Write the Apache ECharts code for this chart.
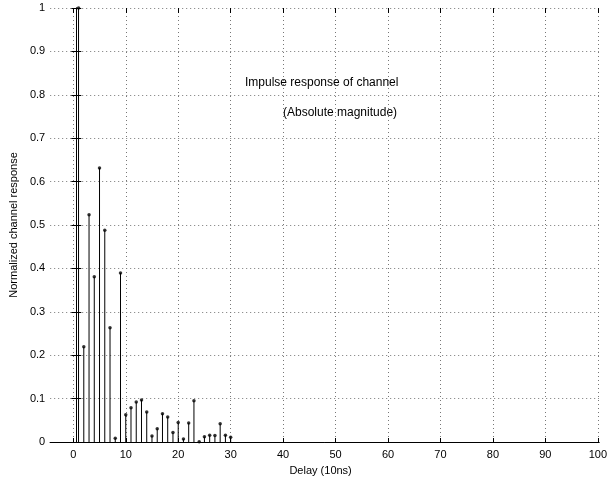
<!DOCTYPE html>
<html>
<head>
<meta charset="utf-8">
<script src="https://cdn.jsdelivr.net/npm/echarts@6/dist/echarts.min.js"></script>
<style>
  html, body { margin: 0; padding: 0; background: #fff; }
  #main { width: 610px; height: 481px; }
</style>
</head>
<body>
<div id="main"></div>
<script>
// delay taps (units of 10ns) and normalized magnitude
const delays = [1, 2, 3, 4, 5, 6, 7, 8, 9, 10, 11, 12, 13, 14, 15, 16, 17, 18, 19, 20,
  21, 22, 23, 24, 25, 26, 27, 28, 29, 30];
const magnitudes = [1.0, 0.221, 0.525, 0.382, 0.632, 0.489, 0.265, 0.011, 0.391, 0.065,
  0.081, 0.094, 0.099, 0.071, 0.016, 0.033, 0.0675, 0.06, 0.024, 0.047,
  0.009, 0.046, 0.097, 0.003, 0.0145, 0.018, 0.017, 0.044, 0.018, 0.013];
const xTicks = [0, 10, 20, 30, 40, 50, 60, 70, 80, 90, 100];
const yTicks = [0, 0.1, 0.2, 0.3, 0.4, 0.5, 0.6, 0.7, 0.8, 0.9, 1];

const font = "Liberation Sans, Arial, Helvetica, sans-serif";
const stemData = delays.map((d, i) => [d, magnitudes[i]]);

const dotted = { color: "#777", width: 1, type: [1, 3] };
const inTick = { show: true, inside: true, length: 5, lineStyle: { color: "#000" } };
const lbl = { color: "#000", fontFamily: font, fontSize: 11 };

const chart = echarts.init(document.getElementById("main"));

const options = {
  animation: false,
  backgroundColor: "#fff",
  grid: [
    { left: 47, right: 11, top: 8, bottom: 38 },   // full box, -5..100
    { left: 73.3, right: 11, top: 8, bottom: 38 }  // 0..100 part for x ticks/data
  ],
  xAxis: [
    {
      gridIndex: 0, type: "value", min: -5, max: 100,
      axisLine: { show: true, lineStyle: { color: "#000" } },
      axisTick: { show: false }, axisLabel: { show: false }, splitLine: { show: false },
      name: "Delay (10ns)", nameLocation: "middle", nameGap: 23,
      nameTextStyle: { color: "#000", fontFamily: font, fontSize: 11, padding: [0, 8, 0, 0] }
    },
    {
      gridIndex: 0, type: "value", min: -5, max: 100, position: "top",
      axisLine: { show: true, lineStyle: { color: "#000" } },
      axisTick: { show: false }, axisLabel: { show: false }, splitLine: { show: false }
    },
    {
      gridIndex: 1, type: "value", min: xTicks[0], max: xTicks[xTicks.length - 1], interval: 10,
      axisLine: { show: false },
      axisTick: inTick,
      axisLabel: Object.assign({ margin: 6 }, lbl),
      splitLine: { show: true, lineStyle: dotted }
    },
    {
      gridIndex: 1, type: "value", min: xTicks[0], max: xTicks[xTicks.length - 1], interval: 10,
      position: "top",
      axisLine: { show: false },
      axisTick: inTick, axisLabel: { show: false }, splitLine: { show: false }
    }
  ],
  yAxis: [
    {
      gridIndex: 0, type: "value", min: yTicks[0], max: yTicks[yTicks.length - 1], interval: 0.1,
      axisLine: { show: true, lineStyle: { color: "#000" } },
      axisTick: inTick,
      axisLabel: Object.assign({ margin: 5 }, lbl),
      splitLine: { show: true, lineStyle: dotted },
      name: "Normalized channel response", nameLocation: "middle", nameGap: 23,
      nameTextStyle: { color: "#000", fontFamily: font, fontSize: 11 }
    },
    {
      gridIndex: 0, type: "value", min: 0, max: 1, interval: 0.1, position: "right",
      axisLine: { show: true, lineStyle: { color: "#000" } },
      axisTick: inTick, axisLabel: { show: false }, splitLine: { show: false }
    },
    {
      gridIndex: 1, type: "value", min: 0, max: 1, show: false
    }
  ],
  graphic: [
    {
      type: "text", left: 245, top: 77,
      style: { text: "Impulse response of channel", fill: "#000", font: "12px " + font }
    },
    {
      type: "text", left: 283, top: 107,
      style: { text: "(Absolute magnitude)", fill: "#000", font: "12px " + font }
    }
  ],
  series: [
    {
      name: "stem",
      type: "custom",
      xAxisIndex: 2, yAxisIndex: 2,
      data: stemData,
      renderItem: function (params, api) {
        const p0 = api.coord([api.value(0), 0]);
        const p1 = api.coord([api.value(0), api.value(1)]);
        return {
          type: "line",
          shape: { x1: p0[0], y1: p0[1], x2: p1[0], y2: p1[1] },
          style: { stroke: "#000", lineWidth: 1 }
        };
      },
      z: 3
    },
    {
      name: "tip",
      type: "scatter",
      xAxisIndex: 2, yAxisIndex: 2,
      data: stemData,
      symbol: "circle",
      symbolSize: 3.5,
      itemStyle: { color: "#000" },
      z: 4
    }
  ]
};
chart.setOption(options);
</script>
</body>
</html>
